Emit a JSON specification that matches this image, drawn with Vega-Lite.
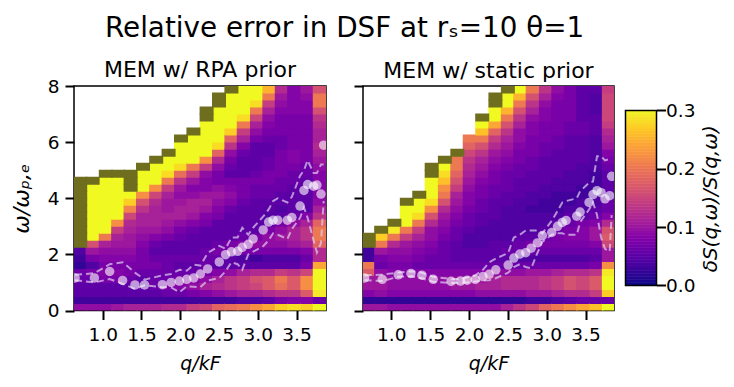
{"$schema":"https://vega.github.io/schema/vega-lite/v6.json","background":"white","padding":{"left":9,"top":14,"right":5,"bottom":5},
"title":{"text":"Relative error in DSF at rₛ=10 θ=1","fontSize":27.8,"fontWeight":"normal","font":"DejaVu Sans","color":"black","anchor":"start","dx":95.5,"offset":15.5},
"config":{"font":"DejaVu Sans","view":{"stroke":"black","strokeWidth":1.5},"axis":{"grid":false,"labelFontSize":18.5,"titleFontSize":19,"titleFontWeight":"normal","tickWidth":2,"tickSize":9,"tickColor":"black","domainColor":"black","labelColor":"black","titleColor":"black","labelPadding":6,"titlePadding":10}},
"datasets":{
"rpa":[
{"q":0.71,"w":0.125,"v":0.09},{"q":0.71,"w":0.375,"v":0.03},{"q":0.71,"w":0.625,"v":0.05},{"q":0.71,"w":0.875,"v":0.05},{"q":0.71,"w":1.125,"v":0.06},{"q":0.71,"w":1.375,"v":0.06},{"q":0.71,"w":1.625,"v":0.02},{"q":0.71,"w":1.875,"v":0.03},{"q":0.71,"w":2.125,"v":0.04},
{"q":0.87,"w":0.125,"v":0.09},{"q":0.87,"w":0.375,"v":0.03},{"q":0.87,"w":0.625,"v":0.05},{"q":0.87,"w":0.875,"v":0.05},{"q":0.87,"w":1.125,"v":0.06},{"q":0.87,"w":1.375,"v":0.07},{"q":0.87,"w":1.625,"v":0.04},{"q":0.87,"w":1.875,"v":0.07},{"q":0.87,"w":2.125,"v":0.1},{"q":0.87,"w":2.375,"v":0.16},{"q":0.87,"w":2.625,"v":0.3},{"q":0.87,"w":2.875,"v":0.3},{"q":0.87,"w":3.125,"v":0.3},{"q":0.87,"w":3.375,"v":0.3},{"q":0.87,"w":3.625,"v":0.3},{"q":0.87,"w":3.875,"v":0.3},{"q":0.87,"w":4.125,"v":0.3},{"q":0.87,"w":4.375,"v":0.3},
{"q":1.04,"w":0.125,"v":0.09},{"q":1.04,"w":0.375,"v":0.03},{"q":1.04,"w":0.625,"v":0.05},{"q":1.04,"w":0.875,"v":0.05},{"q":1.04,"w":1.125,"v":0.07},{"q":1.04,"w":1.375,"v":0.08},{"q":1.04,"w":1.625,"v":0.07},{"q":1.04,"w":1.875,"v":0.08},{"q":1.04,"w":2.125,"v":0.09},{"q":1.04,"w":2.375,"v":0.11},{"q":1.04,"w":2.625,"v":0.2},{"q":1.04,"w":2.875,"v":0.3},{"q":1.04,"w":3.125,"v":0.3},{"q":1.04,"w":3.375,"v":0.3},{"q":1.04,"w":3.625,"v":0.3},{"q":1.04,"w":3.875,"v":0.3},{"q":1.04,"w":4.125,"v":0.3},{"q":1.04,"w":4.375,"v":0.3},{"q":1.04,"w":4.625,"v":0.3},
{"q":1.2,"w":0.125,"v":0.1},{"q":1.2,"w":0.375,"v":0.03},{"q":1.2,"w":0.625,"v":0.05},{"q":1.2,"w":0.875,"v":0.05},{"q":1.2,"w":1.125,"v":0.07},{"q":1.2,"w":1.375,"v":0.08},{"q":1.2,"w":1.625,"v":0.07},{"q":1.2,"w":1.875,"v":0.08},{"q":1.2,"w":2.125,"v":0.09},{"q":1.2,"w":2.375,"v":0.1},{"q":1.2,"w":2.625,"v":0.11},{"q":1.2,"w":2.875,"v":0.14},{"q":1.2,"w":3.125,"v":0.22},{"q":1.2,"w":3.375,"v":0.3},{"q":1.2,"w":3.625,"v":0.3},{"q":1.2,"w":3.875,"v":0.3},{"q":1.2,"w":4.125,"v":0.3},{"q":1.2,"w":4.375,"v":0.3},{"q":1.2,"w":4.625,"v":0.3},
{"q":1.36,"w":0.125,"v":0.11},{"q":1.36,"w":0.375,"v":0.03},{"q":1.36,"w":0.625,"v":0.05},{"q":1.36,"w":0.875,"v":0.05},{"q":1.36,"w":1.125,"v":0.06},{"q":1.36,"w":1.375,"v":0.07},{"q":1.36,"w":1.625,"v":0.07},{"q":1.36,"w":1.875,"v":0.08},{"q":1.36,"w":2.125,"v":0.09},{"q":1.36,"w":2.375,"v":0.1},{"q":1.36,"w":2.625,"v":0.1},{"q":1.36,"w":2.875,"v":0.11},{"q":1.36,"w":3.125,"v":0.12},{"q":1.36,"w":3.375,"v":0.15},{"q":1.36,"w":3.625,"v":0.21},{"q":1.36,"w":3.875,"v":0.27},{"q":1.36,"w":4.125,"v":0.3},
{"q":1.52,"w":0.125,"v":0.11},{"q":1.52,"w":0.375,"v":0.03},{"q":1.52,"w":0.625,"v":0.05},{"q":1.52,"w":0.875,"v":0.05},{"q":1.52,"w":1.125,"v":0.05},{"q":1.52,"w":1.375,"v":0.06},{"q":1.52,"w":1.625,"v":0.07},{"q":1.52,"w":1.875,"v":0.07},{"q":1.52,"w":2.125,"v":0.07},{"q":1.52,"w":2.375,"v":0.08},{"q":1.52,"w":2.625,"v":0.09},{"q":1.52,"w":2.875,"v":0.1},{"q":1.52,"w":3.125,"v":0.11},{"q":1.52,"w":3.375,"v":0.11},{"q":1.52,"w":3.625,"v":0.13},{"q":1.52,"w":3.875,"v":0.16},{"q":1.52,"w":4.125,"v":0.22},{"q":1.52,"w":4.375,"v":0.3},{"q":1.52,"w":4.625,"v":0.3},{"q":1.52,"w":4.875,"v":0.3},
{"q":1.69,"w":0.125,"v":0.11},{"q":1.69,"w":0.375,"v":0.03},{"q":1.69,"w":0.625,"v":0.05},{"q":1.69,"w":0.875,"v":0.06},{"q":1.69,"w":1.125,"v":0.06},{"q":1.69,"w":1.375,"v":0.06},{"q":1.69,"w":1.625,"v":0.07},{"q":1.69,"w":1.875,"v":0.06},{"q":1.69,"w":2.125,"v":0.05},{"q":1.69,"w":2.375,"v":0.06},{"q":1.69,"w":2.625,"v":0.08},{"q":1.69,"w":2.875,"v":0.1},{"q":1.69,"w":3.125,"v":0.11},{"q":1.69,"w":3.375,"v":0.11},{"q":1.69,"w":3.625,"v":0.11},{"q":1.69,"w":3.875,"v":0.12},{"q":1.69,"w":4.125,"v":0.15},{"q":1.69,"w":4.375,"v":0.22},{"q":1.69,"w":4.625,"v":0.3},{"q":1.69,"w":4.875,"v":0.3},{"q":1.69,"w":5.125,"v":0.3},
{"q":1.85,"w":0.125,"v":0.12},{"q":1.85,"w":0.375,"v":0.03},{"q":1.85,"w":0.625,"v":0.06},{"q":1.85,"w":0.875,"v":0.07},{"q":1.85,"w":1.125,"v":0.06},{"q":1.85,"w":1.375,"v":0.06},{"q":1.85,"w":1.625,"v":0.06},{"q":1.85,"w":1.875,"v":0.06},{"q":1.85,"w":2.125,"v":0.05},{"q":1.85,"w":2.375,"v":0.05},{"q":1.85,"w":2.625,"v":0.07},{"q":1.85,"w":2.875,"v":0.09},{"q":1.85,"w":3.125,"v":0.1},{"q":1.85,"w":3.375,"v":0.11},{"q":1.85,"w":3.625,"v":0.1},{"q":1.85,"w":3.875,"v":0.1},{"q":1.85,"w":4.125,"v":0.11},{"q":1.85,"w":4.375,"v":0.14},{"q":1.85,"w":4.625,"v":0.2},{"q":1.85,"w":4.875,"v":0.28},{"q":1.85,"w":5.125,"v":0.3},{"q":1.85,"w":5.375,"v":0.3},
{"q":2.01,"w":0.125,"v":0.12},{"q":2.01,"w":0.375,"v":0.03},{"q":2.01,"w":0.625,"v":0.06},{"q":2.01,"w":0.875,"v":0.08},{"q":2.01,"w":1.125,"v":0.07},{"q":2.01,"w":1.375,"v":0.06},{"q":2.01,"w":1.625,"v":0.05},{"q":2.01,"w":1.875,"v":0.06},{"q":2.01,"w":2.125,"v":0.05},{"q":2.01,"w":2.375,"v":0.05},{"q":2.01,"w":2.625,"v":0.06},{"q":2.01,"w":2.875,"v":0.07},{"q":2.01,"w":3.125,"v":0.09},{"q":2.01,"w":3.375,"v":0.11},{"q":2.01,"w":3.625,"v":0.11},{"q":2.01,"w":3.875,"v":0.1},{"q":2.01,"w":4.125,"v":0.09},{"q":2.01,"w":4.375,"v":0.1},{"q":2.01,"w":4.625,"v":0.13},{"q":2.01,"w":4.875,"v":0.19},{"q":2.01,"w":5.125,"v":0.28},{"q":2.01,"w":5.375,"v":0.3},{"q":2.01,"w":5.625,"v":0.3},{"q":2.01,"w":5.875,"v":0.3},
{"q":2.17,"w":0.125,"v":0.14},{"q":2.17,"w":0.375,"v":0.03},{"q":2.17,"w":0.625,"v":0.07},{"q":2.17,"w":0.875,"v":0.09},{"q":2.17,"w":1.125,"v":0.08},{"q":2.17,"w":1.375,"v":0.06},{"q":2.17,"w":1.625,"v":0.05},{"q":2.17,"w":1.875,"v":0.06},{"q":2.17,"w":2.125,"v":0.05},{"q":2.17,"w":2.375,"v":0.05},{"q":2.17,"w":2.625,"v":0.05},{"q":2.17,"w":2.875,"v":0.06},{"q":2.17,"w":3.125,"v":0.08},{"q":2.17,"w":3.375,"v":0.1},{"q":2.17,"w":3.625,"v":0.11},{"q":2.17,"w":3.875,"v":0.11},{"q":2.17,"w":4.125,"v":0.09},{"q":2.17,"w":4.375,"v":0.08},{"q":2.17,"w":4.625,"v":0.1},{"q":2.17,"w":4.875,"v":0.14},{"q":2.17,"w":5.125,"v":0.2},{"q":2.17,"w":5.375,"v":0.3},{"q":2.17,"w":5.625,"v":0.3},{"q":2.17,"w":5.875,"v":0.3},{"q":2.17,"w":6.125,"v":0.3},
{"q":2.34,"w":0.125,"v":0.15},{"q":2.34,"w":0.375,"v":0.03},{"q":2.34,"w":0.625,"v":0.08},{"q":2.34,"w":0.875,"v":0.11},{"q":2.34,"w":1.125,"v":0.09},{"q":2.34,"w":1.375,"v":0.07},{"q":2.34,"w":1.625,"v":0.06},{"q":2.34,"w":1.875,"v":0.06},{"q":2.34,"w":2.125,"v":0.06},{"q":2.34,"w":2.375,"v":0.05},{"q":2.34,"w":2.625,"v":0.05},{"q":2.34,"w":2.875,"v":0.05},{"q":2.34,"w":3.125,"v":0.07},{"q":2.34,"w":3.375,"v":0.08},{"q":2.34,"w":3.625,"v":0.1},{"q":2.34,"w":3.875,"v":0.11},{"q":2.34,"w":4.125,"v":0.1},{"q":2.34,"w":4.375,"v":0.08},{"q":2.34,"w":4.625,"v":0.08},{"q":2.34,"w":4.875,"v":0.09},{"q":2.34,"w":5.125,"v":0.14},{"q":2.34,"w":5.375,"v":0.22},{"q":2.34,"w":5.625,"v":0.3},{"q":2.34,"w":5.875,"v":0.3},{"q":2.34,"w":6.125,"v":0.3},{"q":2.34,"w":6.375,"v":0.3},{"q":2.34,"w":6.625,"v":0.3},
{"q":2.5,"w":0.125,"v":0.18},{"q":2.5,"w":0.375,"v":0.03},{"q":2.5,"w":0.625,"v":0.09},{"q":2.5,"w":0.875,"v":0.12},{"q":2.5,"w":1.125,"v":0.11},{"q":2.5,"w":1.375,"v":0.08},{"q":2.5,"w":1.625,"v":0.05},{"q":2.5,"w":1.875,"v":0.06},{"q":2.5,"w":2.125,"v":0.07},{"q":2.5,"w":2.375,"v":0.06},{"q":2.5,"w":2.625,"v":0.05},{"q":2.5,"w":2.875,"v":0.05},{"q":2.5,"w":3.125,"v":0.05},{"q":2.5,"w":3.375,"v":0.07},{"q":2.5,"w":3.625,"v":0.08},{"q":2.5,"w":3.875,"v":0.09},{"q":2.5,"w":4.125,"v":0.1},{"q":2.5,"w":4.375,"v":0.09},{"q":2.5,"w":4.625,"v":0.07},{"q":2.5,"w":4.875,"v":0.07},{"q":2.5,"w":5.125,"v":0.09},{"q":2.5,"w":5.375,"v":0.12},{"q":2.5,"w":5.625,"v":0.18},{"q":2.5,"w":5.875,"v":0.28},{"q":2.5,"w":6.125,"v":0.3},{"q":2.5,"w":6.375,"v":0.3},{"q":2.5,"w":6.625,"v":0.3},{"q":2.5,"w":6.875,"v":0.3},{"q":2.5,"w":7.125,"v":0.3},
{"q":2.66,"w":0.125,"v":0.19},{"q":2.66,"w":0.375,"v":0.03},{"q":2.66,"w":0.625,"v":0.1},{"q":2.66,"w":0.875,"v":0.13},{"q":2.66,"w":1.125,"v":0.13},{"q":2.66,"w":1.375,"v":0.09},{"q":2.66,"w":1.625,"v":0.05},{"q":2.66,"w":1.875,"v":0.05},{"q":2.66,"w":2.125,"v":0.07},{"q":2.66,"w":2.375,"v":0.07},{"q":2.66,"w":2.625,"v":0.05},{"q":2.66,"w":2.875,"v":0.05},{"q":2.66,"w":3.125,"v":0.05},{"q":2.66,"w":3.375,"v":0.05},{"q":2.66,"w":3.625,"v":0.06},{"q":2.66,"w":3.875,"v":0.08},{"q":2.66,"w":4.125,"v":0.09},{"q":2.66,"w":4.375,"v":0.08},{"q":2.66,"w":4.625,"v":0.07},{"q":2.66,"w":4.875,"v":0.05},{"q":2.66,"w":5.125,"v":0.06},{"q":2.66,"w":5.375,"v":0.07},{"q":2.66,"w":5.625,"v":0.09},{"q":2.66,"w":5.875,"v":0.13},{"q":2.66,"w":6.125,"v":0.18},{"q":2.66,"w":6.375,"v":0.27},{"q":2.66,"w":6.625,"v":0.3},{"q":2.66,"w":6.875,"v":0.3},{"q":2.66,"w":7.125,"v":0.3},{"q":2.66,"w":7.375,"v":0.3},{"q":2.66,"w":7.625,"v":0.3},
{"q":2.82,"w":0.125,"v":0.2},{"q":2.82,"w":0.375,"v":0.04},{"q":2.82,"w":0.625,"v":0.11},{"q":2.82,"w":0.875,"v":0.14},{"q":2.82,"w":1.125,"v":0.14},{"q":2.82,"w":1.375,"v":0.11},{"q":2.82,"w":1.625,"v":0.05},{"q":2.82,"w":1.875,"v":0.04},{"q":2.82,"w":2.125,"v":0.07},{"q":2.82,"w":2.375,"v":0.08},{"q":2.82,"w":2.625,"v":0.06},{"q":2.82,"w":2.875,"v":0.05},{"q":2.82,"w":3.125,"v":0.05},{"q":2.82,"w":3.375,"v":0.05},{"q":2.82,"w":3.625,"v":0.05},{"q":2.82,"w":3.875,"v":0.06},{"q":2.82,"w":4.125,"v":0.07},{"q":2.82,"w":4.375,"v":0.07},{"q":2.82,"w":4.625,"v":0.07},{"q":2.82,"w":4.875,"v":0.05},{"q":2.82,"w":5.125,"v":0.05},{"q":2.82,"w":5.375,"v":0.05},{"q":2.82,"w":5.625,"v":0.06},{"q":2.82,"w":5.875,"v":0.08},{"q":2.82,"w":6.125,"v":0.11},{"q":2.82,"w":6.375,"v":0.14},{"q":2.82,"w":6.625,"v":0.2},{"q":2.82,"w":6.875,"v":0.28},{"q":2.82,"w":7.125,"v":0.3},{"q":2.82,"w":7.375,"v":0.3},{"q":2.82,"w":7.625,"v":0.3},{"q":2.82,"w":7.875,"v":0.3},
{"q":2.99,"w":0.125,"v":0.22},{"q":2.99,"w":0.375,"v":0.04},{"q":2.99,"w":0.625,"v":0.11},{"q":2.99,"w":0.875,"v":0.15},{"q":2.99,"w":1.125,"v":0.16},{"q":2.99,"w":1.375,"v":0.12},{"q":2.99,"w":1.625,"v":0.05},{"q":2.99,"w":1.875,"v":0.03},{"q":2.99,"w":2.125,"v":0.07},{"q":2.99,"w":2.375,"v":0.09},{"q":2.99,"w":2.625,"v":0.07},{"q":2.99,"w":2.875,"v":0.05},{"q":2.99,"w":3.125,"v":0.05},{"q":2.99,"w":3.375,"v":0.05},{"q":2.99,"w":3.625,"v":0.05},{"q":2.99,"w":3.875,"v":0.05},{"q":2.99,"w":4.125,"v":0.06},{"q":2.99,"w":4.375,"v":0.06},{"q":2.99,"w":4.625,"v":0.07},{"q":2.99,"w":4.875,"v":0.06},{"q":2.99,"w":5.125,"v":0.05},{"q":2.99,"w":5.375,"v":0.05},{"q":2.99,"w":5.625,"v":0.05},{"q":2.99,"w":5.875,"v":0.05},{"q":2.99,"w":6.125,"v":0.07},{"q":2.99,"w":6.375,"v":0.09},{"q":2.99,"w":6.625,"v":0.11},{"q":2.99,"w":6.875,"v":0.15},{"q":2.99,"w":7.125,"v":0.2},{"q":2.99,"w":7.375,"v":0.28},{"q":2.99,"w":7.625,"v":0.3},{"q":2.99,"w":7.875,"v":0.3},
{"q":3.15,"w":0.125,"v":0.24},{"q":3.15,"w":0.375,"v":0.05},{"q":3.15,"w":0.625,"v":0.12},{"q":3.15,"w":0.875,"v":0.17},{"q":3.15,"w":1.125,"v":0.17},{"q":3.15,"w":1.375,"v":0.12},{"q":3.15,"w":1.625,"v":0.05},{"q":3.15,"w":1.875,"v":0.04},{"q":3.15,"w":2.125,"v":0.07},{"q":3.15,"w":2.375,"v":0.09},{"q":3.15,"w":2.625,"v":0.09},{"q":3.15,"w":2.875,"v":0.07},{"q":3.15,"w":3.125,"v":0.05},{"q":3.15,"w":3.375,"v":0.04},{"q":3.15,"w":3.625,"v":0.05},{"q":3.15,"w":3.875,"v":0.05},{"q":3.15,"w":4.125,"v":0.06},{"q":3.15,"w":4.375,"v":0.06},{"q":3.15,"w":4.625,"v":0.07},{"q":3.15,"w":4.875,"v":0.07},{"q":3.15,"w":5.125,"v":0.06},{"q":3.15,"w":5.375,"v":0.06},{"q":3.15,"w":5.625,"v":0.05},{"q":3.15,"w":5.875,"v":0.05},{"q":3.15,"w":6.125,"v":0.06},{"q":3.15,"w":6.375,"v":0.07},{"q":3.15,"w":6.625,"v":0.08},{"q":3.15,"w":6.875,"v":0.09},{"q":3.15,"w":7.125,"v":0.11},{"q":3.15,"w":7.375,"v":0.14},{"q":3.15,"w":7.625,"v":0.2},{"q":3.15,"w":7.875,"v":0.25},
{"q":3.31,"w":0.125,"v":0.27},{"q":3.31,"w":0.375,"v":0.07},{"q":3.31,"w":0.625,"v":0.13},{"q":3.31,"w":0.875,"v":0.19},{"q":3.31,"w":1.125,"v":0.2},{"q":3.31,"w":1.375,"v":0.14},{"q":3.31,"w":1.625,"v":0.05},{"q":3.31,"w":1.875,"v":0.04},{"q":3.31,"w":2.125,"v":0.07},{"q":3.31,"w":2.375,"v":0.09},{"q":3.31,"w":2.625,"v":0.1},{"q":3.31,"w":2.875,"v":0.09},{"q":3.31,"w":3.125,"v":0.07},{"q":3.31,"w":3.375,"v":0.05},{"q":3.31,"w":3.625,"v":0.04},{"q":3.31,"w":3.875,"v":0.05},{"q":3.31,"w":4.125,"v":0.05},{"q":3.31,"w":4.375,"v":0.06},{"q":3.31,"w":4.625,"v":0.06},{"q":3.31,"w":4.875,"v":0.07},{"q":3.31,"w":5.125,"v":0.07},{"q":3.31,"w":5.375,"v":0.07},{"q":3.31,"w":5.625,"v":0.07},{"q":3.31,"w":5.875,"v":0.06},{"q":3.31,"w":6.125,"v":0.06},{"q":3.31,"w":6.375,"v":0.07},{"q":3.31,"w":6.625,"v":0.07},{"q":3.31,"w":6.875,"v":0.07},{"q":3.31,"w":7.125,"v":0.08},{"q":3.31,"w":7.375,"v":0.09},{"q":3.31,"w":7.625,"v":0.1},{"q":3.31,"w":7.875,"v":0.12},
{"q":3.47,"w":0.125,"v":0.28},{"q":3.47,"w":0.375,"v":0.08},{"q":3.47,"w":0.625,"v":0.13},{"q":3.47,"w":0.875,"v":0.17},{"q":3.47,"w":1.125,"v":0.17},{"q":3.47,"w":1.375,"v":0.13},{"q":3.47,"w":1.625,"v":0.05},{"q":3.47,"w":1.875,"v":0.04},{"q":3.47,"w":2.125,"v":0.07},{"q":3.47,"w":2.375,"v":0.1},{"q":3.47,"w":2.625,"v":0.11},{"q":3.47,"w":2.875,"v":0.11},{"q":3.47,"w":3.125,"v":0.09},{"q":3.47,"w":3.375,"v":0.06},{"q":3.47,"w":3.625,"v":0.05},{"q":3.47,"w":3.875,"v":0.05},{"q":3.47,"w":4.125,"v":0.05},{"q":3.47,"w":4.375,"v":0.05},{"q":3.47,"w":4.625,"v":0.06},{"q":3.47,"w":4.875,"v":0.06},{"q":3.47,"w":5.125,"v":0.07},{"q":3.47,"w":5.375,"v":0.08},{"q":3.47,"w":5.625,"v":0.08},{"q":3.47,"w":5.875,"v":0.07},{"q":3.47,"w":6.125,"v":0.07},{"q":3.47,"w":6.375,"v":0.07},{"q":3.47,"w":6.625,"v":0.07},{"q":3.47,"w":6.875,"v":0.07},{"q":3.47,"w":7.125,"v":0.08},{"q":3.47,"w":7.375,"v":0.08},{"q":3.47,"w":7.625,"v":0.08},{"q":3.47,"w":7.875,"v":0.08},
{"q":3.64,"w":0.125,"v":0.27},{"q":3.64,"w":0.375,"v":0.08},{"q":3.64,"w":0.625,"v":0.17},{"q":3.64,"w":0.875,"v":0.22},{"q":3.64,"w":1.125,"v":0.22},{"q":3.64,"w":1.375,"v":0.15},{"q":3.64,"w":1.625,"v":0.07},{"q":3.64,"w":1.875,"v":0.06},{"q":3.64,"w":2.125,"v":0.08},{"q":3.64,"w":2.375,"v":0.11},{"q":3.64,"w":2.625,"v":0.13},{"q":3.64,"w":2.875,"v":0.13},{"q":3.64,"w":3.125,"v":0.11},{"q":3.64,"w":3.375,"v":0.08},{"q":3.64,"w":3.625,"v":0.05},{"q":3.64,"w":3.875,"v":0.05},{"q":3.64,"w":4.125,"v":0.05},{"q":3.64,"w":4.375,"v":0.05},{"q":3.64,"w":4.625,"v":0.05},{"q":3.64,"w":4.875,"v":0.06},{"q":3.64,"w":5.125,"v":0.06},{"q":3.64,"w":5.375,"v":0.07},{"q":3.64,"w":5.625,"v":0.07},{"q":3.64,"w":5.875,"v":0.07},{"q":3.64,"w":6.125,"v":0.07},{"q":3.64,"w":6.375,"v":0.07},{"q":3.64,"w":6.625,"v":0.07},{"q":3.64,"w":6.875,"v":0.07},{"q":3.64,"w":7.125,"v":0.08},{"q":3.64,"w":7.375,"v":0.08},{"q":3.64,"w":7.625,"v":0.09},{"q":3.64,"w":7.875,"v":0.1},
{"q":3.8,"w":0.125,"v":0.3},{"q":3.8,"w":0.375,"v":0.06},{"q":3.8,"w":0.625,"v":0.29},{"q":3.8,"w":0.875,"v":0.3},{"q":3.8,"w":1.125,"v":0.3},{"q":3.8,"w":1.375,"v":0.3},{"q":3.8,"w":1.625,"v":0.24},{"q":3.8,"w":1.875,"v":0.12},{"q":3.8,"w":2.125,"v":0.12},{"q":3.8,"w":2.375,"v":0.18},{"q":3.8,"w":2.625,"v":0.2},{"q":3.8,"w":2.875,"v":0.2},{"q":3.8,"w":3.125,"v":0.18},{"q":3.8,"w":3.375,"v":0.13},{"q":3.8,"w":3.625,"v":0.11},{"q":3.8,"w":3.875,"v":0.09},{"q":3.8,"w":4.125,"v":0.08},{"q":3.8,"w":4.375,"v":0.08},{"q":3.8,"w":4.625,"v":0.08},{"q":3.8,"w":4.875,"v":0.08},{"q":3.8,"w":5.125,"v":0.09},{"q":3.8,"w":5.375,"v":0.1},{"q":3.8,"w":5.625,"v":0.11},{"q":3.8,"w":5.875,"v":0.12},{"q":3.8,"w":6.125,"v":0.11},{"q":3.8,"w":6.375,"v":0.11},{"q":3.8,"w":6.625,"v":0.12},{"q":3.8,"w":6.875,"v":0.13},{"q":3.8,"w":7.125,"v":0.16},{"q":3.8,"w":7.375,"v":0.2},{"q":3.8,"w":7.625,"v":0.2},{"q":3.8,"w":7.875,"v":0.16}],
"stat":[
{"q":0.71,"w":0.125,"v":0.1},{"q":0.71,"w":0.375,"v":0.02},{"q":0.71,"w":0.625,"v":0.08},{"q":0.71,"w":0.875,"v":0.1},{"q":0.71,"w":1.125,"v":0.1},{"q":0.71,"w":1.375,"v":0.17},{"q":0.71,"w":1.625,"v":0.2},{"q":0.71,"w":1.875,"v":0.03},{"q":0.71,"w":2.125,"v":0.03},
{"q":0.87,"w":0.125,"v":0.1},{"q":0.87,"w":0.375,"v":0.02},{"q":0.87,"w":0.625,"v":0.09},{"q":0.87,"w":0.875,"v":0.1},{"q":0.87,"w":1.125,"v":0.1},{"q":0.87,"w":1.375,"v":0.09},{"q":0.87,"w":1.625,"v":0.06},{"q":0.87,"w":1.875,"v":0.07},{"q":0.87,"w":2.125,"v":0.1},{"q":0.87,"w":2.375,"v":0.2},{"q":0.87,"w":2.625,"v":0.27},
{"q":1.04,"w":0.125,"v":0.09},{"q":1.04,"w":0.375,"v":0.02},{"q":1.04,"w":0.625,"v":0.08},{"q":1.04,"w":0.875,"v":0.09},{"q":1.04,"w":1.125,"v":0.09},{"q":1.04,"w":1.375,"v":0.08},{"q":1.04,"w":1.625,"v":0.07},{"q":1.04,"w":1.875,"v":0.08},{"q":1.04,"w":2.125,"v":0.09},{"q":1.04,"w":2.375,"v":0.12},{"q":1.04,"w":2.625,"v":0.2},{"q":1.04,"w":2.875,"v":0.29},
{"q":1.2,"w":0.125,"v":0.09},{"q":1.2,"w":0.375,"v":0.02},{"q":1.2,"w":0.625,"v":0.08},{"q":1.2,"w":0.875,"v":0.09},{"q":1.2,"w":1.125,"v":0.09},{"q":1.2,"w":1.375,"v":0.08},{"q":1.2,"w":1.625,"v":0.07},{"q":1.2,"w":1.875,"v":0.08},{"q":1.2,"w":2.125,"v":0.09},{"q":1.2,"w":2.375,"v":0.1},{"q":1.2,"w":2.625,"v":0.14},{"q":1.2,"w":2.875,"v":0.2},{"q":1.2,"w":3.125,"v":0.3},{"q":1.2,"w":3.375,"v":0.3},{"q":1.2,"w":3.625,"v":0.3},
{"q":1.36,"w":0.125,"v":0.09},{"q":1.36,"w":0.375,"v":0.02},{"q":1.36,"w":0.625,"v":0.08},{"q":1.36,"w":0.875,"v":0.09},{"q":1.36,"w":1.125,"v":0.09},{"q":1.36,"w":1.375,"v":0.08},{"q":1.36,"w":1.625,"v":0.06},{"q":1.36,"w":1.875,"v":0.07},{"q":1.36,"w":2.125,"v":0.08},{"q":1.36,"w":2.375,"v":0.09},{"q":1.36,"w":2.625,"v":0.11},{"q":1.36,"w":2.875,"v":0.14},{"q":1.36,"w":3.125,"v":0.2},{"q":1.36,"w":3.375,"v":0.28},{"q":1.36,"w":3.625,"v":0.3},{"q":1.36,"w":3.875,"v":0.3},
{"q":1.52,"w":0.125,"v":0.09},{"q":1.52,"w":0.375,"v":0.02},{"q":1.52,"w":0.625,"v":0.08},{"q":1.52,"w":0.875,"v":0.09},{"q":1.52,"w":1.125,"v":0.09},{"q":1.52,"w":1.375,"v":0.08},{"q":1.52,"w":1.625,"v":0.06},{"q":1.52,"w":1.875,"v":0.06},{"q":1.52,"w":2.125,"v":0.07},{"q":1.52,"w":2.375,"v":0.08},{"q":1.52,"w":2.625,"v":0.09},{"q":1.52,"w":2.875,"v":0.09},{"q":1.52,"w":3.125,"v":0.12},{"q":1.52,"w":3.375,"v":0.16},{"q":1.52,"w":3.625,"v":0.22},{"q":1.52,"w":3.875,"v":0.28},{"q":1.52,"w":4.125,"v":0.3},{"q":1.52,"w":4.375,"v":0.3},{"q":1.52,"w":4.625,"v":0.3},
{"q":1.69,"w":0.125,"v":0.09},{"q":1.69,"w":0.375,"v":0.02},{"q":1.69,"w":0.625,"v":0.08},{"q":1.69,"w":0.875,"v":0.09},{"q":1.69,"w":1.125,"v":0.09},{"q":1.69,"w":1.375,"v":0.08},{"q":1.69,"w":1.625,"v":0.06},{"q":1.69,"w":1.875,"v":0.06},{"q":1.69,"w":2.125,"v":0.06},{"q":1.69,"w":2.375,"v":0.06},{"q":1.69,"w":2.625,"v":0.07},{"q":1.69,"w":2.875,"v":0.08},{"q":1.69,"w":3.125,"v":0.09},{"q":1.69,"w":3.375,"v":0.1},{"q":1.69,"w":3.625,"v":0.12},{"q":1.69,"w":3.875,"v":0.16},{"q":1.69,"w":4.125,"v":0.2},{"q":1.69,"w":4.375,"v":0.22},{"q":1.69,"w":4.625,"v":0.26},{"q":1.69,"w":4.875,"v":0.28},{"q":1.69,"w":5.125,"v":0.3},
{"q":1.85,"w":0.125,"v":0.09},{"q":1.85,"w":0.375,"v":0.02},{"q":1.85,"w":0.625,"v":0.08},{"q":1.85,"w":0.875,"v":0.1},{"q":1.85,"w":1.125,"v":0.09},{"q":1.85,"w":1.375,"v":0.08},{"q":1.85,"w":1.625,"v":0.06},{"q":1.85,"w":1.875,"v":0.05},{"q":1.85,"w":2.125,"v":0.05},{"q":1.85,"w":2.375,"v":0.05},{"q":1.85,"w":2.625,"v":0.06},{"q":1.85,"w":2.875,"v":0.06},{"q":1.85,"w":3.125,"v":0.07},{"q":1.85,"w":3.375,"v":0.08},{"q":1.85,"w":3.625,"v":0.09},{"q":1.85,"w":3.875,"v":0.1},{"q":1.85,"w":4.125,"v":0.11},{"q":1.85,"w":4.375,"v":0.14},{"q":1.85,"w":4.625,"v":0.16},{"q":1.85,"w":4.875,"v":0.18},{"q":1.85,"w":5.125,"v":0.2},{"q":1.85,"w":5.375,"v":0.2},
{"q":2.01,"w":0.125,"v":0.09},{"q":2.01,"w":0.375,"v":0.02},{"q":2.01,"w":0.625,"v":0.08},{"q":2.01,"w":0.875,"v":0.1},{"q":2.01,"w":1.125,"v":0.1},{"q":2.01,"w":1.375,"v":0.08},{"q":2.01,"w":1.625,"v":0.06},{"q":2.01,"w":1.875,"v":0.05},{"q":2.01,"w":2.125,"v":0.05},{"q":2.01,"w":2.375,"v":0.04},{"q":2.01,"w":2.625,"v":0.04},{"q":2.01,"w":2.875,"v":0.05},{"q":2.01,"w":3.125,"v":0.06},{"q":2.01,"w":3.375,"v":0.06},{"q":2.01,"w":3.625,"v":0.07},{"q":2.01,"w":3.875,"v":0.08},{"q":2.01,"w":4.125,"v":0.08},{"q":2.01,"w":4.375,"v":0.09},{"q":2.01,"w":4.625,"v":0.1},{"q":2.01,"w":4.875,"v":0.11},{"q":2.01,"w":5.125,"v":0.12},{"q":2.01,"w":5.375,"v":0.13},{"q":2.01,"w":5.625,"v":0.15},{"q":2.01,"w":5.875,"v":0.18},{"q":2.01,"w":6.125,"v":0.2},
{"q":2.17,"w":0.125,"v":0.09},{"q":2.17,"w":0.375,"v":0.02},{"q":2.17,"w":0.625,"v":0.09},{"q":2.17,"w":0.875,"v":0.11},{"q":2.17,"w":1.125,"v":0.1},{"q":2.17,"w":1.375,"v":0.08},{"q":2.17,"w":1.625,"v":0.06},{"q":2.17,"w":1.875,"v":0.05},{"q":2.17,"w":2.125,"v":0.05},{"q":2.17,"w":2.375,"v":0.04},{"q":2.17,"w":2.625,"v":0.04},{"q":2.17,"w":2.875,"v":0.04},{"q":2.17,"w":3.125,"v":0.05},{"q":2.17,"w":3.375,"v":0.05},{"q":2.17,"w":3.625,"v":0.06},{"q":2.17,"w":3.875,"v":0.06},{"q":2.17,"w":4.125,"v":0.07},{"q":2.17,"w":4.375,"v":0.07},{"q":2.17,"w":4.625,"v":0.08},{"q":2.17,"w":4.875,"v":0.09},{"q":2.17,"w":5.125,"v":0.1},{"q":2.17,"w":5.375,"v":0.11},{"q":2.17,"w":5.625,"v":0.13},{"q":2.17,"w":5.875,"v":0.16},{"q":2.17,"w":6.125,"v":0.2},{"q":2.17,"w":6.375,"v":0.26},{"q":2.17,"w":6.625,"v":0.3},
{"q":2.34,"w":0.125,"v":0.09},{"q":2.34,"w":0.375,"v":0.02},{"q":2.34,"w":0.625,"v":0.09},{"q":2.34,"w":0.875,"v":0.11},{"q":2.34,"w":1.125,"v":0.11},{"q":2.34,"w":1.375,"v":0.09},{"q":2.34,"w":1.625,"v":0.06},{"q":2.34,"w":1.875,"v":0.05},{"q":2.34,"w":2.125,"v":0.05},{"q":2.34,"w":2.375,"v":0.05},{"q":2.34,"w":2.625,"v":0.04},{"q":2.34,"w":2.875,"v":0.04},{"q":2.34,"w":3.125,"v":0.04},{"q":2.34,"w":3.375,"v":0.05},{"q":2.34,"w":3.625,"v":0.05},{"q":2.34,"w":3.875,"v":0.05},{"q":2.34,"w":4.125,"v":0.06},{"q":2.34,"w":4.375,"v":0.06},{"q":2.34,"w":4.625,"v":0.07},{"q":2.34,"w":4.875,"v":0.07},{"q":2.34,"w":5.125,"v":0.08},{"q":2.34,"w":5.375,"v":0.09},{"q":2.34,"w":5.625,"v":0.1},{"q":2.34,"w":5.875,"v":0.12},{"q":2.34,"w":6.125,"v":0.14},{"q":2.34,"w":6.375,"v":0.18},{"q":2.34,"w":6.625,"v":0.24},{"q":2.34,"w":6.875,"v":0.3},{"q":2.34,"w":7.125,"v":0.3},
{"q":2.5,"w":0.125,"v":0.11},{"q":2.5,"w":0.375,"v":0.02},{"q":2.5,"w":0.625,"v":0.09},{"q":2.5,"w":0.875,"v":0.12},{"q":2.5,"w":1.125,"v":0.12},{"q":2.5,"w":1.375,"v":0.09},{"q":2.5,"w":1.625,"v":0.06},{"q":2.5,"w":1.875,"v":0.05},{"q":2.5,"w":2.125,"v":0.06},{"q":2.5,"w":2.375,"v":0.05},{"q":2.5,"w":2.625,"v":0.04},{"q":2.5,"w":2.875,"v":0.04},{"q":2.5,"w":3.125,"v":0.04},{"q":2.5,"w":3.375,"v":0.04},{"q":2.5,"w":3.625,"v":0.04},{"q":2.5,"w":3.875,"v":0.05},{"q":2.5,"w":4.125,"v":0.05},{"q":2.5,"w":4.375,"v":0.06},{"q":2.5,"w":4.625,"v":0.06},{"q":2.5,"w":4.875,"v":0.06},{"q":2.5,"w":5.125,"v":0.07},{"q":2.5,"w":5.375,"v":0.08},{"q":2.5,"w":5.625,"v":0.09},{"q":2.5,"w":5.875,"v":0.1},{"q":2.5,"w":6.125,"v":0.11},{"q":2.5,"w":6.375,"v":0.13},{"q":2.5,"w":6.625,"v":0.16},{"q":2.5,"w":6.875,"v":0.2},{"q":2.5,"w":7.125,"v":0.25},{"q":2.5,"w":7.375,"v":0.3},{"q":2.5,"w":7.625,"v":0.3},
{"q":2.66,"w":0.125,"v":0.13},{"q":2.66,"w":0.375,"v":0.02},{"q":2.66,"w":0.625,"v":0.09},{"q":2.66,"w":0.875,"v":0.12},{"q":2.66,"w":1.125,"v":0.12},{"q":2.66,"w":1.375,"v":0.09},{"q":2.66,"w":1.625,"v":0.06},{"q":2.66,"w":1.875,"v":0.04},{"q":2.66,"w":2.125,"v":0.06},{"q":2.66,"w":2.375,"v":0.06},{"q":2.66,"w":2.625,"v":0.05},{"q":2.66,"w":2.875,"v":0.04},{"q":2.66,"w":3.125,"v":0.04},{"q":2.66,"w":3.375,"v":0.04},{"q":2.66,"w":3.625,"v":0.04},{"q":2.66,"w":3.875,"v":0.04},{"q":2.66,"w":4.125,"v":0.05},{"q":2.66,"w":4.375,"v":0.05},{"q":2.66,"w":4.625,"v":0.05},{"q":2.66,"w":4.875,"v":0.06},{"q":2.66,"w":5.125,"v":0.06},{"q":2.66,"w":5.375,"v":0.07},{"q":2.66,"w":5.625,"v":0.07},{"q":2.66,"w":5.875,"v":0.08},{"q":2.66,"w":6.125,"v":0.09},{"q":2.66,"w":6.375,"v":0.09},{"q":2.66,"w":6.625,"v":0.11},{"q":2.66,"w":6.875,"v":0.13},{"q":2.66,"w":7.125,"v":0.16},{"q":2.66,"w":7.375,"v":0.2},{"q":2.66,"w":7.625,"v":0.25},{"q":2.66,"w":7.875,"v":0.3},
{"q":2.82,"w":0.125,"v":0.15},{"q":2.82,"w":0.375,"v":0.03},{"q":2.82,"w":0.625,"v":0.1},{"q":2.82,"w":0.875,"v":0.12},{"q":2.82,"w":1.125,"v":0.12},{"q":2.82,"w":1.375,"v":0.1},{"q":2.82,"w":1.625,"v":0.06},{"q":2.82,"w":1.875,"v":0.04},{"q":2.82,"w":2.125,"v":0.06},{"q":2.82,"w":2.375,"v":0.07},{"q":2.82,"w":2.625,"v":0.05},{"q":2.82,"w":2.875,"v":0.04},{"q":2.82,"w":3.125,"v":0.04},{"q":2.82,"w":3.375,"v":0.04},{"q":2.82,"w":3.625,"v":0.03},{"q":2.82,"w":3.875,"v":0.04},{"q":2.82,"w":4.125,"v":0.04},{"q":2.82,"w":4.375,"v":0.05},{"q":2.82,"w":4.625,"v":0.05},{"q":2.82,"w":4.875,"v":0.05},{"q":2.82,"w":5.125,"v":0.06},{"q":2.82,"w":5.375,"v":0.06},{"q":2.82,"w":5.625,"v":0.07},{"q":2.82,"w":5.875,"v":0.07},{"q":2.82,"w":6.125,"v":0.07},{"q":2.82,"w":6.375,"v":0.08},{"q":2.82,"w":6.625,"v":0.08},{"q":2.82,"w":6.875,"v":0.09},{"q":2.82,"w":7.125,"v":0.11},{"q":2.82,"w":7.375,"v":0.13},{"q":2.82,"w":7.625,"v":0.16},{"q":2.82,"w":7.875,"v":0.2},
{"q":2.99,"w":0.125,"v":0.18},{"q":2.99,"w":0.375,"v":0.03},{"q":2.99,"w":0.625,"v":0.1},{"q":2.99,"w":0.875,"v":0.13},{"q":2.99,"w":1.125,"v":0.13},{"q":2.99,"w":1.375,"v":0.1},{"q":2.99,"w":1.625,"v":0.06},{"q":2.99,"w":1.875,"v":0.04},{"q":2.99,"w":2.125,"v":0.06},{"q":2.99,"w":2.375,"v":0.07},{"q":2.99,"w":2.625,"v":0.06},{"q":2.99,"w":2.875,"v":0.05},{"q":2.99,"w":3.125,"v":0.04},{"q":2.99,"w":3.375,"v":0.04},{"q":2.99,"w":3.625,"v":0.03},{"q":2.99,"w":3.875,"v":0.03},{"q":2.99,"w":4.125,"v":0.04},{"q":2.99,"w":4.375,"v":0.04},{"q":2.99,"w":4.625,"v":0.05},{"q":2.99,"w":4.875,"v":0.05},{"q":2.99,"w":5.125,"v":0.05},{"q":2.99,"w":5.375,"v":0.05},{"q":2.99,"w":5.625,"v":0.06},{"q":2.99,"w":5.875,"v":0.06},{"q":2.99,"w":6.125,"v":0.07},{"q":2.99,"w":6.375,"v":0.07},{"q":2.99,"w":6.625,"v":0.07},{"q":2.99,"w":6.875,"v":0.08},{"q":2.99,"w":7.125,"v":0.08},{"q":2.99,"w":7.375,"v":0.09},{"q":2.99,"w":7.625,"v":0.11},{"q":2.99,"w":7.875,"v":0.13},
{"q":3.15,"w":0.125,"v":0.2},{"q":3.15,"w":0.375,"v":0.04},{"q":3.15,"w":0.625,"v":0.11},{"q":3.15,"w":0.875,"v":0.14},{"q":3.15,"w":1.125,"v":0.14},{"q":3.15,"w":1.375,"v":0.11},{"q":3.15,"w":1.625,"v":0.06},{"q":3.15,"w":1.875,"v":0.04},{"q":3.15,"w":2.125,"v":0.06},{"q":3.15,"w":2.375,"v":0.07},{"q":3.15,"w":2.625,"v":0.07},{"q":3.15,"w":2.875,"v":0.06},{"q":3.15,"w":3.125,"v":0.05},{"q":3.15,"w":3.375,"v":0.04},{"q":3.15,"w":3.625,"v":0.03},{"q":3.15,"w":3.875,"v":0.03},{"q":3.15,"w":4.125,"v":0.03},{"q":3.15,"w":4.375,"v":0.04},{"q":3.15,"w":4.625,"v":0.04},{"q":3.15,"w":4.875,"v":0.05},{"q":3.15,"w":5.125,"v":0.05},{"q":3.15,"w":5.375,"v":0.05},{"q":3.15,"w":5.625,"v":0.05},{"q":3.15,"w":5.875,"v":0.06},{"q":3.15,"w":6.125,"v":0.06},{"q":3.15,"w":6.375,"v":0.07},{"q":3.15,"w":6.625,"v":0.07},{"q":3.15,"w":6.875,"v":0.07},{"q":3.15,"w":7.125,"v":0.07},{"q":3.15,"w":7.375,"v":0.07},{"q":3.15,"w":7.625,"v":0.08},{"q":3.15,"w":7.875,"v":0.09},
{"q":3.31,"w":0.125,"v":0.22},{"q":3.31,"w":0.375,"v":0.05},{"q":3.31,"w":0.625,"v":0.12},{"q":3.31,"w":0.875,"v":0.16},{"q":3.31,"w":1.125,"v":0.16},{"q":3.31,"w":1.375,"v":0.12},{"q":3.31,"w":1.625,"v":0.06},{"q":3.31,"w":1.875,"v":0.04},{"q":3.31,"w":2.125,"v":0.06},{"q":3.31,"w":2.375,"v":0.07},{"q":3.31,"w":2.625,"v":0.08},{"q":3.31,"w":2.875,"v":0.07},{"q":3.31,"w":3.125,"v":0.06},{"q":3.31,"w":3.375,"v":0.05},{"q":3.31,"w":3.625,"v":0.04},{"q":3.31,"w":3.875,"v":0.03},{"q":3.31,"w":4.125,"v":0.03},{"q":3.31,"w":4.375,"v":0.04},{"q":3.31,"w":4.625,"v":0.04},{"q":3.31,"w":4.875,"v":0.04},{"q":3.31,"w":5.125,"v":0.05},{"q":3.31,"w":5.375,"v":0.05},{"q":3.31,"w":5.625,"v":0.05},{"q":3.31,"w":5.875,"v":0.05},{"q":3.31,"w":6.125,"v":0.05},{"q":3.31,"w":6.375,"v":0.06},{"q":3.31,"w":6.625,"v":0.06},{"q":3.31,"w":6.875,"v":0.07},{"q":3.31,"w":7.125,"v":0.07},{"q":3.31,"w":7.375,"v":0.07},{"q":3.31,"w":7.625,"v":0.07},{"q":3.31,"w":7.875,"v":0.07},
{"q":3.47,"w":0.125,"v":0.24},{"q":3.47,"w":0.375,"v":0.06},{"q":3.47,"w":0.625,"v":0.12},{"q":3.47,"w":0.875,"v":0.15},{"q":3.47,"w":1.125,"v":0.15},{"q":3.47,"w":1.375,"v":0.12},{"q":3.47,"w":1.625,"v":0.06},{"q":3.47,"w":1.875,"v":0.04},{"q":3.47,"w":2.125,"v":0.06},{"q":3.47,"w":2.375,"v":0.07},{"q":3.47,"w":2.625,"v":0.08},{"q":3.47,"w":2.875,"v":0.08},{"q":3.47,"w":3.125,"v":0.07},{"q":3.47,"w":3.375,"v":0.05},{"q":3.47,"w":3.625,"v":0.04},{"q":3.47,"w":3.875,"v":0.04},{"q":3.47,"w":4.125,"v":0.03},{"q":3.47,"w":4.375,"v":0.03},{"q":3.47,"w":4.625,"v":0.04},{"q":3.47,"w":4.875,"v":0.04},{"q":3.47,"w":5.125,"v":0.04},{"q":3.47,"w":5.375,"v":0.05},{"q":3.47,"w":5.625,"v":0.05},{"q":3.47,"w":5.875,"v":0.05},{"q":3.47,"w":6.125,"v":0.05},{"q":3.47,"w":6.375,"v":0.06},{"q":3.47,"w":6.625,"v":0.06},{"q":3.47,"w":6.875,"v":0.05},{"q":3.47,"w":7.125,"v":0.05},{"q":3.47,"w":7.375,"v":0.05},{"q":3.47,"w":7.625,"v":0.05},{"q":3.47,"w":7.875,"v":0.05},
{"q":3.64,"w":0.125,"v":0.26},{"q":3.64,"w":0.375,"v":0.06},{"q":3.64,"w":0.625,"v":0.14},{"q":3.64,"w":0.875,"v":0.17},{"q":3.64,"w":1.125,"v":0.17},{"q":3.64,"w":1.375,"v":0.13},{"q":3.64,"w":1.625,"v":0.07},{"q":3.64,"w":1.875,"v":0.05},{"q":3.64,"w":2.125,"v":0.06},{"q":3.64,"w":2.375,"v":0.08},{"q":3.64,"w":2.625,"v":0.1},{"q":3.64,"w":2.875,"v":0.1},{"q":3.64,"w":3.125,"v":0.08},{"q":3.64,"w":3.375,"v":0.06},{"q":3.64,"w":3.625,"v":0.05},{"q":3.64,"w":3.875,"v":0.04},{"q":3.64,"w":4.125,"v":0.04},{"q":3.64,"w":4.375,"v":0.03},{"q":3.64,"w":4.625,"v":0.03},{"q":3.64,"w":4.875,"v":0.03},{"q":3.64,"w":5.125,"v":0.04},{"q":3.64,"w":5.375,"v":0.04},{"q":3.64,"w":5.625,"v":0.04},{"q":3.64,"w":5.875,"v":0.04},{"q":3.64,"w":6.125,"v":0.04},{"q":3.64,"w":6.375,"v":0.05},{"q":3.64,"w":6.625,"v":0.05},{"q":3.64,"w":6.875,"v":0.05},{"q":3.64,"w":7.125,"v":0.04},{"q":3.64,"w":7.375,"v":0.04},{"q":3.64,"w":7.625,"v":0.04},{"q":3.64,"w":7.875,"v":0.05},
{"q":3.8,"w":0.125,"v":0.3},{"q":3.8,"w":0.375,"v":0.06},{"q":3.8,"w":0.625,"v":0.27},{"q":3.8,"w":0.875,"v":0.3},{"q":3.8,"w":1.125,"v":0.3},{"q":3.8,"w":1.375,"v":0.29},{"q":3.8,"w":1.625,"v":0.22},{"q":3.8,"w":1.875,"v":0.1},{"q":3.8,"w":2.125,"v":0.1},{"q":3.8,"w":2.375,"v":0.15},{"q":3.8,"w":2.625,"v":0.17},{"q":3.8,"w":2.875,"v":0.16},{"q":3.8,"w":3.125,"v":0.12},{"q":3.8,"w":3.375,"v":0.08},{"q":3.8,"w":3.625,"v":0.06},{"q":3.8,"w":3.875,"v":0.06},{"q":3.8,"w":4.125,"v":0.05},{"q":3.8,"w":4.375,"v":0.05},{"q":3.8,"w":4.625,"v":0.05},{"q":3.8,"w":4.875,"v":0.05},{"q":3.8,"w":5.125,"v":0.06},{"q":3.8,"w":5.375,"v":0.07},{"q":3.8,"w":5.625,"v":0.08},{"q":3.8,"w":5.875,"v":0.1},{"q":3.8,"w":6.125,"v":0.11},{"q":3.8,"w":6.375,"v":0.12},{"q":3.8,"w":6.625,"v":0.14},{"q":3.8,"w":6.875,"v":0.15},{"q":3.8,"w":7.125,"v":0.15},{"q":3.8,"w":7.375,"v":0.15},{"q":3.8,"w":7.625,"v":0.15},{"q":3.8,"w":7.875,"v":0.14}],
"rpaEdge":[{"q":0.71,"w":2.375},{"q":0.71,"w":2.625},{"q":0.71,"w":2.875},{"q":0.71,"w":3.125},{"q":0.71,"w":3.375},{"q":0.71,"w":3.625},{"q":0.71,"w":3.875},{"q":0.71,"w":4.125},{"q":0.71,"w":4.375},{"q":0.71,"w":4.625},{"q":0.87,"w":4.625},{"q":1.04,"w":4.875},{"q":1.2,"w":4.875},{"q":1.36,"w":4.375},{"q":1.36,"w":4.625},{"q":1.36,"w":4.875},{"q":1.52,"w":5.125},{"q":1.69,"w":5.375},{"q":1.85,"w":5.625},{"q":2.01,"w":6.125},{"q":2.17,"w":6.375},{"q":2.34,"w":6.875},{"q":2.34,"w":7.125},{"q":2.5,"w":7.375},{"q":2.5,"w":7.625},{"q":2.66,"w":7.875}],
"statEdge":[{"q":0.71,"w":2.375},{"q":0.71,"w":2.625},{"q":0.87,"w":2.875},{"q":1.04,"w":3.125},{"q":1.2,"w":3.875},{"q":1.36,"w":4.125},{"q":1.52,"w":4.875},{"q":1.52,"w":5.125},{"q":1.69,"w":5.375},{"q":1.85,"w":5.625},{"q":2.17,"w":6.875},{"q":2.34,"w":7.375},{"q":2.34,"w":7.625},{"q":2.5,"w":7.875}],
"rpaPts":[{"q":0.644,"m":1.16,"hi":1.27,"lo":1.08},{"q":0.893,"m":1.16,"hi":1.33,"lo":1.0},{"q":1.09,"m":1.39,"hi":1.65,"lo":1.12},{"q":1.257,"m":1.07,"hi":1.72,"lo":0.95},{"q":1.416,"m":0.91,"hi":1.35,"lo":0.77},{"q":1.54,"m":0.91,"hi":1.1,"lo":0.9},{"q":1.77,"m":0.92,"hi":1.25,"lo":0.83},{"q":1.883,"m":1.0,"hi":1.3,"lo":0.82},{"q":1.99,"m":1.05,"hi":1.45,"lo":0.65},{"q":2.084,"m":1.11,"hi":1.42,"lo":0.86},{"q":2.174,"m":1.16,"hi":1.63,"lo":0.85},{"q":2.26,"m":1.3,"hi":1.6,"lo":0.83},{"q":2.354,"m":1.48,"hi":2.05,"lo":1.07},{"q":2.504,"m":1.73,"hi":2.3,"lo":1.16},{"q":2.585,"m":1.99,"hi":2.2,"lo":1.4},{"q":2.66,"m":2.09,"hi":2.6,"lo":1.72},{"q":2.74,"m":2.11,"hi":2.6,"lo":1.65},{"q":2.8,"m":2.25,"hi":2.95,"lo":1.45},{"q":2.877,"m":2.36,"hi":2.7,"lo":2.0},{"q":2.94,"m":2.55,"hi":2.95,"lo":2.1},{"q":3.07,"m":2.87,"hi":3.35,"lo":2.29},{"q":3.14,"m":3.15,"hi":3.6,"lo":2.5},{"q":3.198,"m":3.22,"hi":3.9,"lo":2.75},{"q":3.258,"m":3.22,"hi":4.0,"lo":2.7},{"q":3.382,"m":3.22,"hi":3.85,"lo":2.55},{"q":3.44,"m":3.31,"hi":4.05,"lo":2.9},{"q":3.545,"m":3.72,"hi":4.8,"lo":3.3},{"q":3.596,"m":4.28,"hi":5.0,"lo":3.67},{"q":3.643,"m":4.49,"hi":5.35,"lo":3.3},{"q":3.72,"m":4.43,"hi":4.9,"lo":2.5},{"q":3.763,"m":4.47,"hi":4.9,"lo":2.07},{"q":3.815,"m":4.15,"hi":5.2,"lo":2.4},{"q":3.85,"m":5.89,"hi":5.2,"lo":3.9}],
"statPts":[{"q":0.657,"m":1.16,"hi":1.25,"lo":1.08},{"q":0.884,"m":1.11,"hi":1.28,"lo":1.05},{"q":1.09,"m":1.27,"hi":1.35,"lo":1.2},{"q":1.253,"m":1.32,"hi":1.4,"lo":1.22},{"q":1.394,"m":1.26,"hi":1.35,"lo":1.15},{"q":1.54,"m":1.11,"hi":1.2,"lo":1.02},{"q":1.77,"m":1.04,"hi":1.12,"lo":0.98},{"q":1.89,"m":1.05,"hi":1.12,"lo":0.98},{"q":1.977,"m":1.08,"hi":1.18,"lo":1.0},{"q":2.08,"m":1.11,"hi":1.25,"lo":1.03},{"q":2.18,"m":1.21,"hi":1.45,"lo":1.07},{"q":2.26,"m":1.29,"hi":1.72,"lo":1.08},{"q":2.345,"m":1.45,"hi":1.85,"lo":1.15},{"q":2.504,"m":1.62,"hi":2.05,"lo":1.35},{"q":2.577,"m":1.87,"hi":2.6,"lo":1.55},{"q":2.654,"m":2.01,"hi":2.7,"lo":1.65},{"q":2.73,"m":2.06,"hi":2.85,"lo":1.55},{"q":2.8,"m":2.22,"hi":2.85,"lo":1.5},{"q":2.88,"m":2.41,"hi":2.85,"lo":2.05},{"q":2.945,"m":2.67,"hi":2.75,"lo":2.45},{"q":3.065,"m":2.78,"hi":3.2,"lo":2.7},{"q":3.14,"m":3.0,"hi":3.55,"lo":2.75},{"q":3.2,"m":3.14,"hi":3.85,"lo":2.75},{"q":3.25,"m":3.21,"hi":3.9,"lo":2.7},{"q":3.387,"m":3.36,"hi":4.0,"lo":2.7},{"q":3.43,"m":3.51,"hi":4.25,"lo":3.15},{"q":3.545,"m":3.85,"hi":4.55,"lo":3.6},{"q":3.596,"m":4.13,"hi":4.6,"lo":3.85},{"q":3.648,"m":4.27,"hi":5.5,"lo":3.4},{"q":3.7,"m":4.2,"hi":5.5,"lo":2.6},{"q":3.75,"m":3.98,"hi":5.35,"lo":2.2},{"q":3.81,"m":4.09,"hi":5.4,"lo":2.1},{"q":3.836,"m":4.78,"hi":5.4,"lo":3.4}],
"bar":[{"lo":0,"hi":0.005},{"lo":0.005,"hi":0.01},{"lo":0.01,"hi":0.015},{"lo":0.015,"hi":0.02},{"lo":0.02,"hi":0.025},{"lo":0.025,"hi":0.03},{"lo":0.03,"hi":0.035},{"lo":0.035,"hi":0.04},{"lo":0.04,"hi":0.045},{"lo":0.045,"hi":0.05},{"lo":0.05,"hi":0.055},{"lo":0.055,"hi":0.06},{"lo":0.06,"hi":0.065},{"lo":0.065,"hi":0.07},{"lo":0.07,"hi":0.075},{"lo":0.075,"hi":0.08},{"lo":0.08,"hi":0.085},{"lo":0.085,"hi":0.09},{"lo":0.09,"hi":0.095},{"lo":0.095,"hi":0.1},{"lo":0.1,"hi":0.105},{"lo":0.105,"hi":0.11},{"lo":0.11,"hi":0.115},{"lo":0.115,"hi":0.12},{"lo":0.12,"hi":0.125},{"lo":0.125,"hi":0.13},{"lo":0.13,"hi":0.135},{"lo":0.135,"hi":0.14},{"lo":0.14,"hi":0.145},{"lo":0.145,"hi":0.15},{"lo":0.15,"hi":0.155},{"lo":0.155,"hi":0.16},{"lo":0.16,"hi":0.165},{"lo":0.165,"hi":0.17},{"lo":0.17,"hi":0.175},{"lo":0.175,"hi":0.18},{"lo":0.18,"hi":0.185},{"lo":0.185,"hi":0.19},{"lo":0.19,"hi":0.195},{"lo":0.195,"hi":0.2},{"lo":0.2,"hi":0.205},{"lo":0.205,"hi":0.21},{"lo":0.21,"hi":0.215},{"lo":0.215,"hi":0.22},{"lo":0.22,"hi":0.225},{"lo":0.225,"hi":0.23},{"lo":0.23,"hi":0.235},{"lo":0.235,"hi":0.24},{"lo":0.24,"hi":0.245},{"lo":0.245,"hi":0.25},{"lo":0.25,"hi":0.255},{"lo":0.255,"hi":0.26},{"lo":0.26,"hi":0.265},{"lo":0.265,"hi":0.27},{"lo":0.27,"hi":0.275},{"lo":0.275,"hi":0.28},{"lo":0.28,"hi":0.285},{"lo":0.285,"hi":0.29},{"lo":0.29,"hi":0.295},{"lo":0.295,"hi":0.3}]
},
"bounds":"full","spacing":9.5,
"hconcat":[
{"bounds":"flush","spacing":37,"hconcat":[
{"width":252,"height":224.5,"title":{"text":"MEM w/ RPA prior","fontSize":22,"fontWeight":"normal","offset":-5,"color":"black"},
"encoding":{"x":{"field":"q","type":"quantitative","scale":{"domain":[0.63,3.88],"nice":false,"zero":false},"axis":{"title":"q/kF","titleFontStyle":"italic","values":[1,1.5,2,2.5,3,3.5],"format":".1f","domain":false}}},
"layer":[
{"data":{"name":"rpa"},"mark":{"type":"rect","width":14,"height":8,"clip":true},"encoding":{"y":{"field":"w","type":"quantitative","scale":{"domain":[0,8],"nice":false},"axis":{"title":"ω/ωₚ,ₑ","titleFontSize":22,"titleFontStyle":"italic","titlePadding":14,"values":[0,2,4,6,8],"domain":false}},"color":{"field":"v","type":"quantitative","scale":{"domain":[0,0.3],"scheme":"plasma","clamp":true},"legend":null}}},
{"data":{"name":"rpaEdge"},"mark":{"type":"rect","width":14,"height":8,"clip":true,"color":"#6e6e1e"},"encoding":{"y":{"field":"w","type":"quantitative"}}},
{"data":{"name":"rpaPts"},"mark":{"type":"line","clip":true,"color":"#e0d0f0","opacity":0.7,"strokeWidth":2,"strokeDash":[7,4]},"encoding":{"y":{"field":"hi","type":"quantitative"}}},
{"data":{"name":"rpaPts"},"mark":{"type":"line","clip":true,"color":"#e0d0f0","opacity":0.7,"strokeWidth":2,"strokeDash":[7,4]},"encoding":{"y":{"field":"lo","type":"quantitative"}}},
{"data":{"name":"rpaPts"},"mark":{"type":"circle","clip":true,"size":90,"color":"white","opacity":0.6},"encoding":{"y":{"field":"m","type":"quantitative"}}}
]},
{"width":251,"height":224.5,"title":{"text":"MEM w/ static prior","fontSize":22,"fontWeight":"normal","offset":2,"color":"black"},
"encoding":{"x":{"field":"q","type":"quantitative","scale":{"domain":[0.636,3.866],"nice":false,"zero":false},"axis":{"title":"q/kF","titleFontStyle":"italic","values":[1,1.5,2,2.5,3,3.5],"format":".1f","domain":false}}},
"layer":[
{"data":{"name":"stat"},"mark":{"type":"rect","width":14,"height":8,"clip":true},"encoding":{"y":{"field":"w","type":"quantitative","scale":{"domain":[0,8],"nice":false},"axis":{"title":null,"labels":false,"values":[0,1,2,3,4,5,6,7,8],"domain":false}},"color":{"field":"v","type":"quantitative","scale":{"domain":[0,0.3],"scheme":"plasma","clamp":true},"legend":null}}},
{"data":{"name":"statEdge"},"mark":{"type":"rect","width":14,"height":8,"clip":true,"color":"#6e6e1e"},"encoding":{"y":{"field":"w","type":"quantitative"}}},
{"data":{"name":"statPts"},"mark":{"type":"line","clip":true,"color":"#e0d0f0","opacity":0.7,"strokeWidth":2,"strokeDash":[7,4]},"encoding":{"y":{"field":"hi","type":"quantitative"}}},
{"data":{"name":"statPts"},"mark":{"type":"line","clip":true,"color":"#e0d0f0","opacity":0.7,"strokeWidth":2,"strokeDash":[7,4]},"encoding":{"y":{"field":"lo","type":"quantitative"}}},
{"data":{"name":"statPts"},"mark":{"type":"circle","clip":true,"size":90,"color":"white","opacity":0.6},"encoding":{"y":{"field":"m","type":"quantitative"}}}
]}
]},
{"width":31,"height":224.5,"view":{"stroke":null},
"layer":[
{"data":{"name":"bar"},"mark":{"type":"rect","strokeWidth":0.6},"encoding":{"y":{"field":"lo","type":"quantitative","scale":{"domain":[-0.0429,0.342],"nice":false,"zero":false},"axis":{"orient":"right","title":"δS(q,ω)/S(q,ω)","titleFontStyle":"italic","titleAngle":270,"titleBaseline":"top","titleFontSize":20,"titlePadding":6,"labelPadding":0,"values":[0,0.1,0.2,0.3],"format":".1f","domain":false}},"y2":{"field":"hi"},"color":{"field":"lo","type":"quantitative","scale":{"domain":[0,0.3],"scheme":"plasma"},"legend":null},"stroke":{"field":"lo","type":"quantitative","scale":{"domain":[0,0.3],"scheme":"plasma"},"legend":null}}},
{"data":{"values":[{"lo":0,"hi":0.3}]},"mark":{"type":"rect","fillOpacity":0,"stroke":"black","strokeWidth":1.5},"encoding":{"y":{"field":"lo","type":"quantitative"},"y2":{"field":"hi"}}}
]}
]}
